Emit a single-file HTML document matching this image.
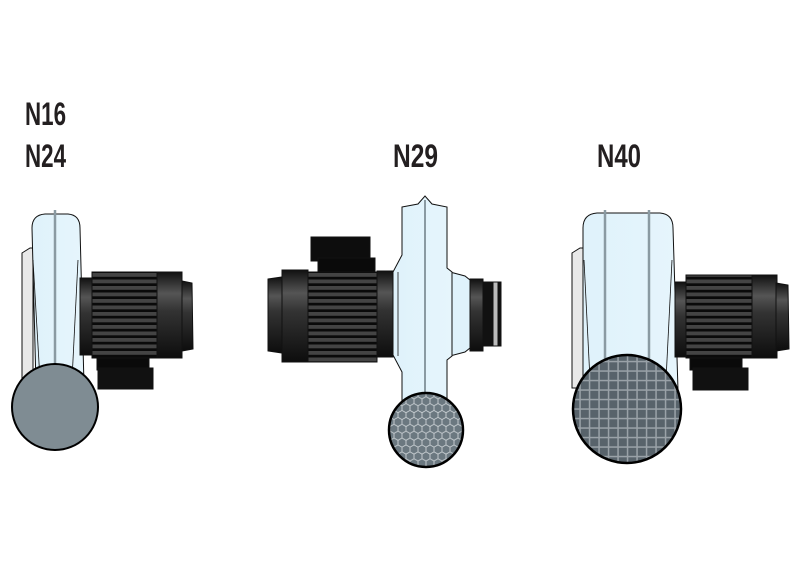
<!DOCTYPE html>
<html><head><style>html,body{margin:0;padding:0;background:#fff}svg{display:block}</style></head>
<body>
<svg width="800" height="570" viewBox="0 0 800 570" xmlns="http://www.w3.org/2000/svg">
<defs>
<linearGradient id="mot" x1="0" y1="0" x2="0" y2="1">
<stop offset="0" stop-color="#111"/><stop offset="0.25" stop-color="#555"/><stop offset="0.45" stop-color="#333"/><stop offset="1" stop-color="#0d0d0d"/>
</linearGradient>
<linearGradient id="hous" x1="0" y1="0" x2="1" y2="0">
<stop offset="0" stop-color="#dff2fb"/><stop offset="1" stop-color="#e6f5fc"/>
</linearGradient>
<pattern id="fins" x="0" y="0" width="10" height="6.5" patternUnits="userSpaceOnUse">
<rect width="10" height="6.5" fill="#444"/><rect y="3.8" width="10" height="2.7" fill="#0a0a0a"/>
</pattern>
<pattern id="grid" x="0" y="0" width="9.5" height="9.5" patternUnits="userSpaceOnUse">
<rect width="9.5" height="9.5" fill="#9aa2a8"/><rect x="1.3" y="1.3" width="8" height="8" fill="#58636b"/>
</pattern>
<pattern id="hex" x="2" y="1" width="8" height="13.8" patternUnits="userSpaceOnUse">
<rect width="8" height="13.8" fill="#6b7880"/>
<path d="M4 0 V2.3 L8 4.6 V9.2 L4 11.5 L0 9.2 V4.6 L4 2.3 M4 11.5 V13.8" stroke="#c9cfd3" stroke-width="0.9" fill="none"/>
</pattern>
</defs>

<g font-family="Liberation Sans, sans-serif" font-weight="bold" font-size="32" fill="#231f20">
<text x="25" y="125" textLength="41" lengthAdjust="spacingAndGlyphs">N16</text>
<text x="25" y="167" textLength="41" lengthAdjust="spacingAndGlyphs">N24</text>
<text x="393" y="167" textLength="45" lengthAdjust="spacingAndGlyphs">N29</text>
<text x="597" y="167" textLength="44" lengthAdjust="spacingAndGlyphs">N40</text>
</g>

<!-- Unit 1 -->
<g stroke="#111" stroke-width="1">
<path d="M22 253 L30 248 L33 248 L33 378 L22 378 Z" fill="#e8e8e8"/>
<path d="M32 228 Q32 215 45 214 L68 214 Q80 215 80 228 L84 385 L36 385 Z" fill="url(#hous)"/>
<line x1="55" y1="210" x2="55" y2="370" stroke="#8a9aa2" stroke-width="2.5"/>
<line x1="33" y1="260" x2="40" y2="380" stroke-width="0.8"/>
<line x1="78" y1="260" x2="72" y2="380" stroke-width="0.8"/>
<rect x="97" y="358" width="52" height="12" fill="#0a0a0a"/>
<rect x="98" y="368" width="55" height="21" fill="#111"/>
<rect x="80" y="278" width="13" height="77" fill="url(#mot)"/>
<rect x="92" y="272" width="65" height="86" fill="url(#fins)"/>
<rect x="157" y="272" width="25" height="86" fill="url(#mot)"/>
<path d="M182 281 L192 283 L193 349 L182 351 Z" fill="url(#mot)"/>
<circle cx="55" cy="407" r="43" fill="#7f8c93" stroke="#000" stroke-width="2"/>
</g>

<!-- Unit 2 -->
<g stroke="#111" stroke-width="1">
<rect x="311" y="237" width="59" height="24" fill="#0d0d0d"/>
<rect x="318" y="258" width="57" height="14" fill="#0a0a0a"/>
<path d="M268 279 L282 277 L282 353 L268 351 Z" fill="url(#mot)"/>
<rect x="282" y="270" width="26" height="92" fill="url(#mot)"/>
<rect x="308" y="272" width="69" height="90" fill="url(#fins)"/>
<rect x="377" y="271" width="16" height="86" fill="url(#mot)"/>
<path d="M450 272 L465 276 L470 280 L470 348 L465 352 L450 356 Z" fill="#dff2fb"/>
<rect x="470" y="279" width="13" height="72" fill="url(#mot)"/>
<rect x="483" y="282" width="18" height="64" fill="#111"/>
<rect x="493" y="282" width="5" height="64" fill="#bbb"/>
<path d="M402 207 L418 204 L425 196 L432 204 L447 207 L447 268 L452 272 L452 356 L447 360 L447 420 L402 420 L402 372 L393 355 L393 272 L402 255 Z" fill="url(#hous)"/>
<line x1="425" y1="200" x2="425" y2="400" stroke="#6d7c84" stroke-width="1.5"/>
<line x1="398" y1="272" x2="398" y2="356" stroke-width="0.8"/>
<circle cx="426" cy="430" r="37" fill="url(#hex)"/>
<circle cx="426" cy="430" r="37" fill="none" stroke="#000" stroke-width="2.5"/>
</g>

<!-- Unit 3 -->
<g stroke="#111" stroke-width="1">
<path d="M572 253 L580 248 L584 248 L584 388 L572 388 Z" fill="#e8e8e8"/>
<path d="M583 228 Q583 214 597 213 L660 213 Q673 214 673 228 L678 390 L583 390 Z" fill="url(#hous)"/>
<line x1="605" y1="210" x2="605" y2="370" stroke="#8a9aa2" stroke-width="2.5"/>
<line x1="649" y1="210" x2="649" y2="370" stroke="#8a9aa2" stroke-width="2.5"/>
<line x1="584" y1="260" x2="590" y2="380" stroke-width="0.8"/>
<line x1="672" y1="260" x2="666" y2="380" stroke-width="0.8"/>
<rect x="690" y="358" width="52" height="12" fill="#0a0a0a"/>
<rect x="693" y="368" width="55" height="22" fill="#111"/>
<rect x="675" y="282" width="12" height="75" fill="url(#mot)"/>
<rect x="686" y="275" width="66" height="83" fill="url(#fins)"/>
<rect x="752" y="275" width="25" height="83" fill="url(#mot)"/>
<path d="M776 283 L788 285 L789 349 L776 351 Z" fill="url(#mot)"/>
<circle cx="627" cy="409" r="54" fill="url(#grid)"/>
<circle cx="627" cy="409" r="54" fill="none" stroke="#000" stroke-width="2.5"/>
</g>
</svg>
</body></html>
